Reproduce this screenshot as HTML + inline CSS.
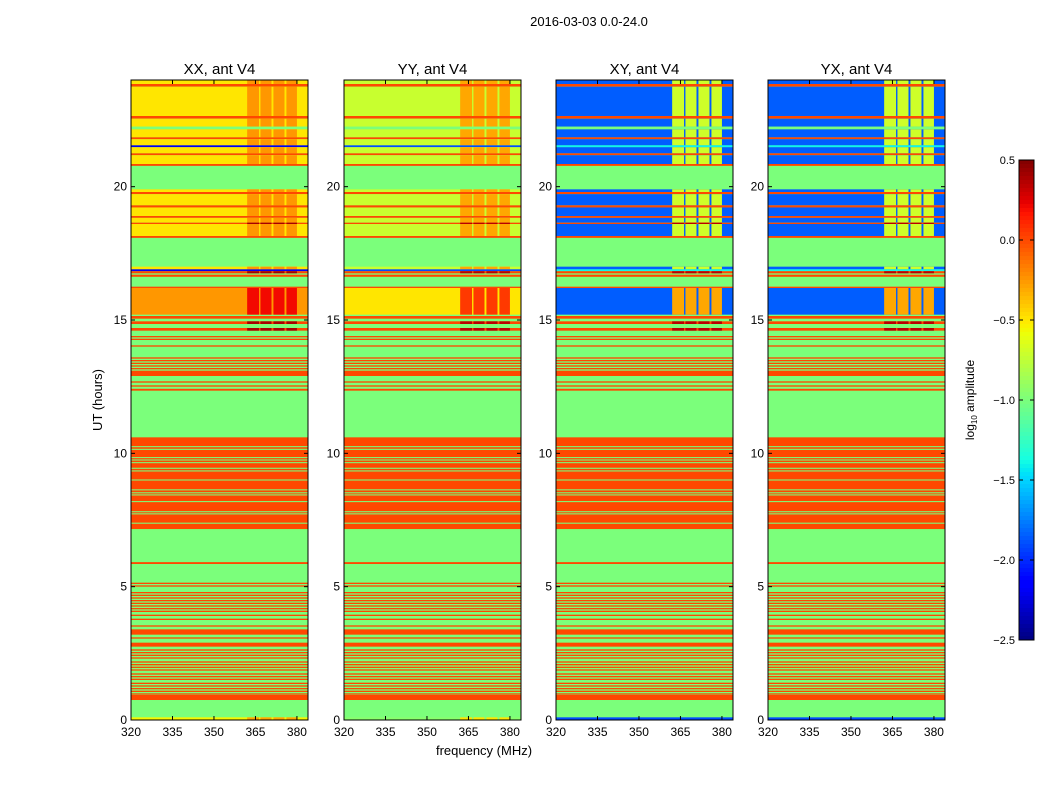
<!DOCTYPE html>
<html><head><meta charset="utf-8"><style>
body{margin:0;background:#fff;width:1050px;height:800px;overflow:hidden;font-family:"Liberation Sans",sans-serif}
</style></head><body>
<svg id="fig" width="1050" height="800" xmlns="http://www.w3.org/2000/svg" font-family="Liberation Sans, sans-serif">
<text x="589" y="26" font-size="13" text-anchor="middle">2016-03-03 0.0-24.0</text>
<text transform="translate(102,400) rotate(-90)" font-size="13" text-anchor="middle">UT (hours)</text>
<text x="484" y="755" font-size="13" text-anchor="middle">frequency (MHz)</text>
<g id="panels"></g>
<g id="cbar"></g>
</svg>
<script>
// ---- data ----
const panelTitles = ["XX, ant V4","YY, ant V4","XY, ant V4","YX, ant V4"];
const xTicks = [320,335,350,365,380];
const yTicks = [0,5,10,15,20];
const cbarTicks = [0.5,0.0,-0.5,-1.0,-1.5,-2.0,-2.5];
const highCols = [[362,366.3],[366.8,370.8],[371.5,375.5],[376.2,380]];
// kind values: [low, high] per panel (log10 amplitude)
const kindXX = [[-1,-1],[0,0],[-0.5,-0.25],[-0.25,0.2],[0,0.4],[-2.2,-2.2],[-0.55,-0.3]];
const kindYY = [[-1,-1],[0,0],[-0.72,-0.3],[-0.5,0.05],[0,0.35],[-1.9,-1.9],[-0.95,-0.5]];
const kindXY = [[-1,-1],[0,0],[-1.85,-0.7],[-1.85,-0.3],[0,0.35],[-1.4,-1.4],[-1.9,-1.9]];
const kindYX = [[-1,-1],[0,0],[-1.85,-0.7],[-1.85,-0.3],[0,0.35],[-1.4,-1.4],[-1.9,-1.9]];
const bandStart = [24,23.85,23.75,22.65,22.55,22.25,22.15,21.85,21.78,21.55,21.48,21.25,21.18,20.85,
 19.9,19.8,19.72,19.3,19.22,18.9,18.83,18.65,18.6,18.15,
 17.0,16.9,16.83,16.7,16.25,16.2,15.15,14.95,14.7,14.4,14.3,14.05,13.6,13.5,13.4,13.3,13.2,13.1,12.7,12.55,12.42,
 10.6,10.23,10.13,9.82,9.73,9.63,9.42,9.32,8.98,8.61,8.50,8.42,8.17,7.79,7.71,7.36,
 5.92,5.15,5.05,4.8,4.7,4.6,4.5,4.4,4.3,4.2,4.1,3.95,3.8,3.55,3.4,3.1,2.9,2.65,2.55,2.45,2.35,2.2,2.1,2.0,1.9,1.75,1.65,1.55,1.4,1.3,1.2,1.1,1.0,0.95,
 0.1];
const bandEnd = [23.85,23.75,22.65,22.55,22.25,22.15,21.85,21.78,21.55,21.48,21.25,21.18,20.85,20.78,
 19.8,19.72,19.3,19.22,18.9,18.83,18.65,18.6,18.15,18.08,
 16.9,16.83,16.75,16.62,16.2,15.2,15.05,14.85,14.6,14.35,14.25,14.0,13.55,13.45,13.35,13.25,13.15,12.9,12.65,12.5,12.35,
 10.27,10.17,9.86,9.77,9.67,9.46,9.36,9.02,8.65,8.54,8.46,8.21,7.83,7.75,7.40,7.16,
 5.85,5.1,5.0,4.75,4.65,4.55,4.45,4.35,4.25,4.15,4.05,3.9,3.75,3.5,3.2,3.05,2.75,2.6,2.5,2.4,2.3,2.15,2.05,1.95,1.85,1.7,1.6,1.5,1.35,1.25,1.15,1.05,0.97,0.75,
 0];
const bandKind = [2,1,2,1,2,0,2,1,2,5,2,1,2,1,
 2,1,2,1,2,1,2,4,2,1,
 2,5,4,1,1,3,1,4,4,1,1,1,1,1,1,1,1,1,1,1,1,
 1,1,1,1,1,1,1,1,1,1,1,1,1,1,1,1,
 1,1,1,1,1,1,1,1,1,1,1,1,1,1,1,1,1,1,1,1,1,1,1,1,1,1,1,1,1,1,1,1,1,1,
 6];
// ---- rendering ----
const NS="http://www.w3.org/2000/svg";
const JR=[[0,0],[0.35,0],[0.66,1],[0.89,1],[1,0.5]];
const JG=[[0,0],[0.125,0],[0.375,1],[0.64,1],[0.91,0],[1,0]];
const JB=[[0,0.5],[0.11,1],[0.34,1],[0.65,0],[1,0]];
function seg(s,t){for(let i=1;i<s.length;i++){if(t<=s[i][0]){const a=s[i-1],b=s[i];return a[1]+(b[1]-a[1])*(t-a[0])/(b[0]-a[0]);}}return s[s.length-1][1];}
function jet(v){let t=(v+2.5)/3;t=Math.max(0,Math.min(1,t));
 const c=x=>Math.round(255*Math.max(0,Math.min(1,x)));
 return `rgb(${c(seg(JR,t))},${c(seg(JG,t))},${c(seg(JB,t))})`;}
function mk(tag,attrs,parent){const e=document.createElementNS(NS,tag);for(const k in attrs)e.setAttribute(k,attrs[k]);parent.appendChild(e);return e;}
const panelX=[131,344,556,768], PW=177, PY0=80, PY1=720;
const kinds=[kindXX,kindYY,kindXY,kindYX];
const gp=document.getElementById('panels');
const yS=h=>PY1-(h/24)*(PY1-PY0);
panelX.forEach((x0,p)=>{
 const xS=f=>x0+(f-320)/64*PW;
 const g=mk('g',{},gp);
 
 
 const bg=mk('rect',{x:x0,y:PY0,width:PW,height:PY1-PY0,fill:jet(-1)},g);
 
 
 for(let i=0;i<bandStart.length;i++){
  const kv=kinds[p][bandKind[i]];
  const y=yS(bandStart[i]),h=Math.max(1,yS(bandEnd[i])-y);
  const r=mk('rect',{x:x0,y:y,width:PW,height:h,fill:jet(kv[0])},g);
  
  
  if(kv[1]!==kv[0]) highCols.forEach(c=>{
   const rc=mk('rect',{x:xS(c[0]),y:y,width:xS(c[1])-xS(c[0]),height:h,fill:jet(kv[1])},g);
   
   
  });
 }
 mk('rect',{x:x0,y:PY0,width:PW,height:PY1-PY0,fill:'none',stroke:'#000','stroke-width':1},g);
 const t=mk('text',{x:x0+PW/2,y:74,'font-size':15,'text-anchor':'middle'},g);
 t.textContent=panelTitles[p];
 
 
 xTicks.forEach(f=>{const x=xS(f);
  mk('line',{x1:x,x2:x,y1:PY1,y2:PY1-4,stroke:'#000'},g);
  mk('line',{x1:x,x2:x,y1:PY0,y2:PY0+4,stroke:'#000'},g);
  const l=mk('text',{x:x,y:PY1+16,'font-size':12,'text-anchor':'middle'},g);l.textContent=f;
  
  });
 yTicks.forEach(v=>{const y=yS(v);
  mk('line',{x1:x0,x2:x0+4,y1:y,y2:y,stroke:'#000'},g);
  mk('line',{x1:x0+PW,x2:x0+PW-4,y1:y,y2:y,stroke:'#000'},g);
  const l=mk('text',{x:x0-4,y:y+4,'font-size':12,'text-anchor':'end'},g);l.textContent=v;
  
  });
});
// colorbar
const cb=document.getElementById('cbar');
const CX=1019,CW=15,CY0=160,CY1=640,vmax=0.5,vmin=-2.5;
const cS=v=>CY0+(vmax-v)/(vmax-vmin)*(CY1-CY0);
for(let i=0;i<120;i++){const v=vmax-(i+0.5)*(vmax-vmin)/120;
 mk('rect',{x:CX,y:CY0+i*4,width:CW,height:4.3,fill:jet(v)},cb);}
const cbf=mk('rect',{x:CX,y:CY0,width:CW,height:CY1-CY0,fill:'none',stroke:'#000'},cb);


cbarTicks.forEach(v=>{const y=cS(v);
 mk('line',{x1:CX,x2:CX+4,y1:y,y2:y,stroke:'#000'},cb);
 mk('line',{x1:CX+CW,x2:CX+CW-4,y1:y,y2:y,stroke:'#000'},cb);
 const l=mk('text',{x:CX-4,y:y+4,'font-size':11,'text-anchor':'end'},cb);
 l.textContent=(v<0?'\u2212':'')+Math.abs(v).toFixed(1);
 
 });
const cl=mk('text',{transform:'translate(974,400) rotate(-90)','font-size':12,'text-anchor':'middle'},cb);
cl.innerHTML='log<tspan font-size="8" dy="3">10</tspan><tspan dy="-3"> amplitude</tspan>';


</script>
</body></html>
